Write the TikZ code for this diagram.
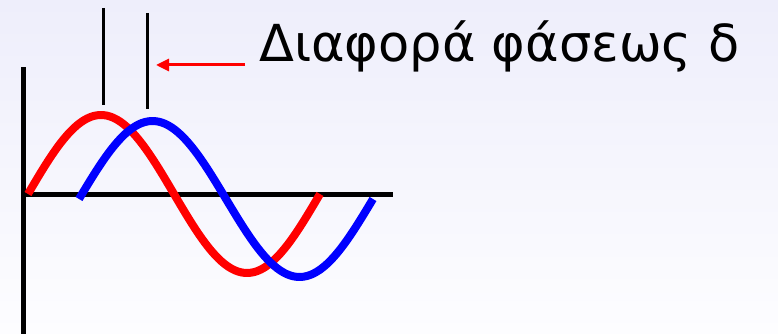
\documentclass[tikz,border=0pt]{standalone}
\usepackage{fontspec}
\setmainfont{DejaVu Sans}
\usetikzlibrary{arrows.meta}
\definecolor{bgtop}{RGB}{238,238,251}
\definecolor{bgbottom}{RGB}{253,253,255}
\begin{document}
\begin{tikzpicture}[x=1pt, y=1pt,
    axis/.style={line width=5pt, black},
    marker/.style={line width=3pt, black},
    wave/.style={line width=8pt},
    pointer/.style={line width=3pt, red, -{Triangle[length=13pt, width=12pt]}}]
            \fill[top color=bgtop, bottom color=bgbottom] (0,0) rectangle (778,334);
            \useasboundingbox (0,0) rectangle (778,334);
            % axes
            \coordinate (ytop) at (23,267);
            \coordinate (ybot) at (23,0);
            \coordinate (xleft) at (21,139);
            \coordinate (xright) at (393,139);
            \draw[axis] (ybot) -- (ytop);
            \draw[axis] (xleft) -- (xright);
            % the two waves, blue one shifted by the phase difference
            \draw[wave, red] plot[domain=0:292, samples=90] ({28+\x}, {140+79*sin(\x/292*360)});
            \draw[wave, blue] plot[domain=0:294, samples=90] ({79+\x}, {135+78*sin(\x/294*360)});
            % peak markers
            \coordinate (redtop) at (103,326);
            \coordinate (redpeak) at (103,229);
            \coordinate (bluetop) at (147,321);
            \coordinate (bluepeak) at (147,225);
            \draw[marker] (redtop) -- (redpeak);
            \draw[marker] (bluetop) -- (bluepeak);
            % label and arrow
            \node[anchor=base west, inner sep=0pt, font=\fontsize{51}{56}\selectfont] (label) at (259,272) {Διαφορά φάσεως δ};
            \coordinate (tail) at (245,269);
            \coordinate (head) at (156,269);
            \draw[pointer] (tail) -- (head);
        \end{tikzpicture}
\end{document}
